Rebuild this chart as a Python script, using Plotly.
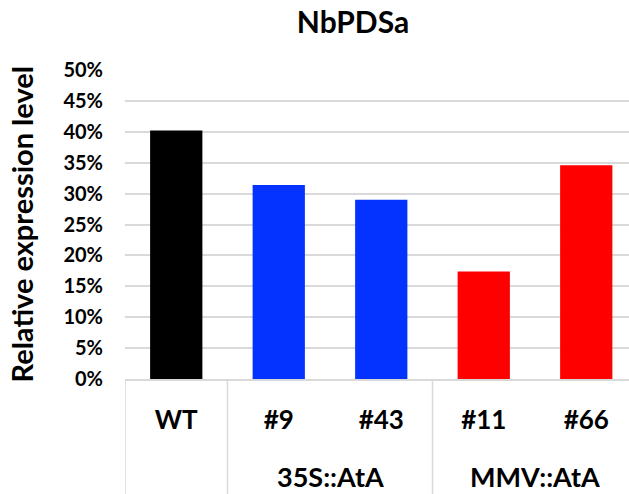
import plotly.graph_objects as go

# ---- data ----
samples = ["WT", "#9", "#43", "#11", "#66"]
groups = ["", "35S::AtA", "35S::AtA", "MMV::AtA", "MMV::AtA"]
values = [0.402, 0.314, 0.290, 0.174, 0.346]
colors = ["#000000", "#0433FF", "#0433FF", "#FF0000", "#FF0000"]
y_ticks = [0.0, 0.05, 0.10, 0.15, 0.20, 0.25, 0.30, 0.35, 0.40, 0.45, 0.50]
y_ticklabels = ["0%", "5%", "10%", "15%", "20%", "25%", "30%", "35%", "40%", "45%", "50%"]
title_text = "NbPDSa"
y_title = "Relative expression level"

W, H = 629, 494
ML, MR, MT, MB = 125, 0, 70, 115
plot_w = W - ML - MR
plot_h = H - MT - MB
FONT = "Lato"
GRID = "#d9d9d9"

xs = list(range(len(samples)))

fig = go.Figure()
fig.add_trace(go.Bar(x=xs, y=values, marker=dict(color=colors, line=dict(width=0)),
                     width=0.51, showlegend=False))

# group labels
uniq = []
for g in groups:
    if g and g not in uniq:
        uniq.append(g)
for g in uniq:
    idx = [i for i, gg in enumerate(groups) if gg == g]
    fig.add_annotation(x=sum(idx) / len(idx), xref="x", y=-97 / plot_h, yref="paper",
                       text=g, showarrow=False, yanchor="middle", xanchor="center",
                       borderpad=0,
                       font=dict(family=FONT, size=27, color="#000000", weight="bold"))

# y-axis title
fig.add_annotation(x=(21 - ML) / plot_w, xref="paper", y=0.5, yref="paper",
                   text=y_title, textangle=-90, showarrow=False,
                   xanchor="center", yanchor="middle",
                   font=dict(family=FONT, size=29, color="#000000", weight="bold"))

# dividers
bounds = [-0.5] + [i - 0.5 for i in range(1, len(groups)) if groups[i] != groups[i - 1]]
for b in bounds:
    fig.add_shape(type="line", xref="x", yref="paper", x0=b, x1=b, y0=0, y1=-MB / plot_h,
                  line=dict(color=GRID, width=1.5))

fig.update_layout(
    width=W, height=H,
    margin=dict(l=ML, r=MR, t=MT, b=MB, autoexpand=False),
    plot_bgcolor="white", paper_bgcolor="white",
    title=dict(text=title_text, x=353 / W, xanchor="center", y=1 - 22 / H, yanchor="middle",
               yref="container", automargin=False,
               font=dict(family=FONT, size=30, color="#000000", weight="bold")),
    xaxis=dict(
        range=[-0.5, 4.417], tickmode="array", tickvals=xs, ticktext=samples,
        showgrid=False, zeroline=False, showline=True, linecolor=GRID, linewidth=2,
        ticks="", ticklabelstandoff=17, automargin=False,
        tickfont=dict(family=FONT, size=26, color="#000000", weight="bold"),
    ),
    yaxis=dict(
        range=[0, 0.5], tickmode="array", tickvals=y_ticks, ticktext=y_ticklabels,
        showgrid=True, gridcolor=GRID, gridwidth=1.5, zeroline=False, showline=False,
        ticks="", ticklabelstandoff=21, automargin=False,
        tickfont=dict(family=FONT, size=20, color="#000000", weight="bold"),
    ),
    bargap=0.49,
)

fig.write_html("out.html", config={"displayModeBar": False},
               post_script="document.body.style.margin='0';document.body.style.overflow='hidden';")
